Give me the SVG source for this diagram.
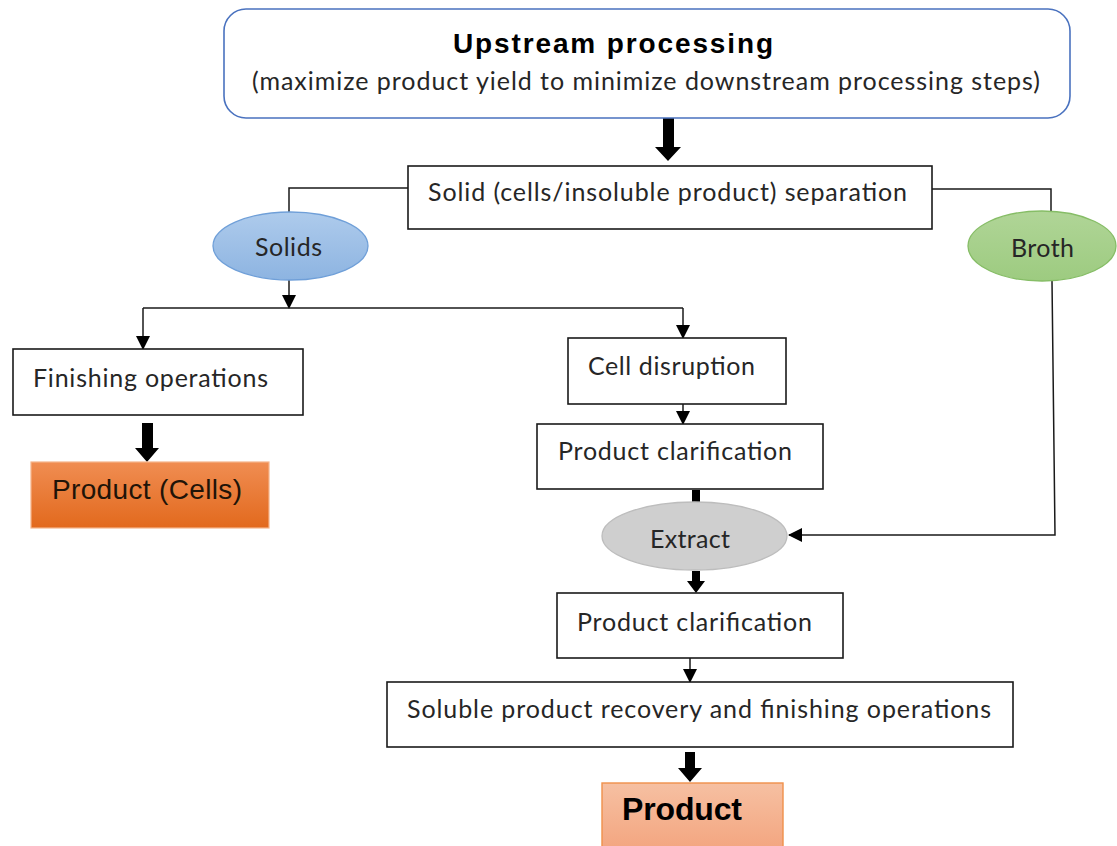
<svg xmlns="http://www.w3.org/2000/svg" width="1117" height="846" viewBox="0 0 1117 846">
  <defs>
    <style>
      .box { fill: #ffffff; stroke: #1a1a1a; stroke-width: 1.6; }
      .lbl { font-family: Lato, "Open Sans", "Liberation Sans", sans-serif; font-size: 25px; fill: #262626; }
      .line { fill: none; stroke: #1a1a1a; stroke-width: 1.5; }
      .thick { fill: #000000; }
    </style>
    <marker id="arr" viewBox="0 0 14 14" refX="13" refY="7" markerWidth="14" markerHeight="14" markerUnits="userSpaceOnUse" orient="auto">
      <path d="M0,0 L14,7 L0,14 Z" fill="#000000"/>
    </marker>
    <linearGradient id="gSolids" x1="0" y1="0" x2="0" y2="1">
      <stop offset="0" stop-color="#aecbec"/>
      <stop offset="1" stop-color="#8db4e1"/>
    </linearGradient>
    <linearGradient id="gBroth" x1="0" y1="0" x2="0" y2="1">
      <stop offset="0" stop-color="#b0d597"/>
      <stop offset="1" stop-color="#9dcb80"/>
    </linearGradient>
    <linearGradient id="gCells" x1="0" y1="0" x2="0" y2="1">
      <stop offset="0" stop-color="#f08d52"/>
      <stop offset="1" stop-color="#e2691d"/>
    </linearGradient>
    <linearGradient id="gProduct" x1="0" y1="0" x2="0" y2="1">
      <stop offset="0" stop-color="#f6c0a2"/>
      <stop offset="1" stop-color="#f3a47e"/>
    </linearGradient>
  </defs>

  <rect width="1117" height="846" fill="#ffffff"/>

  <!-- connectors -->
  <g id="connectors">
    <!-- upstream to separation -->
    <polygon class="thick" points="663,118 674,118 674,147 681,147 668,161 655,147 663,147"/>
    <!-- separation to solids / broth -->
    <polyline class="line" points="408,188 289,188 289,212"/>
    <polyline class="line" points="932,189 1051,189 1051,211"/>
    <!-- solids split -->
    <line class="line" x1="289" y1="280" x2="289" y2="308" marker-end="url(#arr)"/>
    <line class="line" x1="143" y1="308" x2="683" y2="308"/>
    <line class="line" x1="143" y1="308" x2="143" y2="349" marker-end="url(#arr)"/>
    <line class="line" x1="683" y1="308" x2="683" y2="338" marker-end="url(#arr)"/>
    <!-- finishing to cells product -->
    <polygon class="thick" points="142,423 153,423 153,448 159,448 147,462 135,448 142,448"/>
    <!-- cell disruption to clarification -->
    <line class="line" x1="683" y1="404" x2="683" y2="424" marker-end="url(#arr)"/>
    <!-- clarification to extract -->
    <rect class="thick" x="692" y="490" width="8" height="12"/>
    <!-- broth to extract -->
    <polyline class="line" points="1052,281 1055,535 789,535" marker-end="url(#arr)"/>
    <!-- extract to clarification -->
    <polygon class="thick" points="692,571 700,571 700,581 705,581 696,593 687,581 692,581"/>
    <!-- clarification to recovery -->
    <line class="line" x1="690" y1="658" x2="690" y2="682" marker-end="url(#arr)"/>
    <!-- recovery to product -->
    <polygon class="thick" points="685,752 695,752 695,768 702,768 690,782 678,768 685,768"/>
  </g>

  <g id="upstream">
    <rect x="224" y="9" width="846" height="109" rx="22" ry="22" fill="#ffffff" stroke="#4a72bf" stroke-width="1.6"/>
    <text x="613" y="53" text-anchor="middle" font-family="'Liberation Sans', Arial, sans-serif" font-size="28" font-weight="bold" fill="#000000" textLength="320">Upstream processing</text>
    <text class="lbl" x="252" y="90" textLength="788" font-size="26">(maximize product yield to minimize downstream processing steps)</text>
  </g>

  <g id="separation">
    <rect class="box" x="408" y="166" width="524" height="63"/>
    <text class="lbl" x="428" y="201" textLength="479">Solid (cells/insoluble product) separation</text>
  </g>

  <g id="solids">
    <ellipse cx="290.5" cy="246" rx="77.5" ry="34" fill="url(#gSolids)" stroke="#6f9fd8" stroke-width="1.3"/>
    <text class="lbl" x="255" y="256" textLength="67">Solids</text>
  </g>

  <g id="broth">
    <ellipse cx="1042" cy="246" rx="74" ry="35" fill="url(#gBroth)" stroke="#86bd66" stroke-width="1.3"/>
    <text class="lbl" x="1011" y="257" textLength="63">Broth</text>
  </g>

  <g id="finishing">
    <rect class="box" x="13" y="349" width="290" height="66"/>
    <text class="lbl" x="33" y="387" textLength="235">Finishing operations</text>
  </g>

  <g id="product-cells">
    <rect x="31" y="462" width="238" height="66" fill="url(#gCells)" stroke="#f5b48a" stroke-width="1.2"/>
    <text x="52" y="499" font-family="'Liberation Sans', Arial, sans-serif" font-size="28" fill="#1f1408" textLength="190">Product (Cells)</text>
  </g>

  <g id="cell-disruption">
    <rect class="box" x="568" y="338" width="218" height="66"/>
    <text class="lbl" x="588" y="375" textLength="167">Cell disruption</text>
  </g>

  <g id="clarification-1">
    <rect class="box" x="537" y="424" width="286" height="65"/>
    <text class="lbl" x="558" y="460" textLength="234">Product clarification</text>
  </g>

  <g id="extract">
    <ellipse cx="694.5" cy="536" rx="92.5" ry="34" fill="#cfcfcf" stroke="#bdbdbd" stroke-width="1.3"/>
    <text class="lbl" x="650" y="548" textLength="80">Extract</text>
  </g>

  <g id="clarification-2">
    <rect class="box" x="557" y="593" width="286" height="65"/>
    <text class="lbl" x="577" y="631" textLength="235">Product clarification</text>
  </g>

  <g id="recovery">
    <rect class="box" x="387" y="682" width="626" height="65"/>
    <text class="lbl" x="407" y="718" textLength="584">Soluble product recovery and finishing operations</text>
  </g>

  <g id="product">
    <rect x="602" y="783" width="181" height="70" fill="url(#gProduct)" stroke="#f0904a" stroke-width="1.4"/>
    <text x="622" y="820" font-family="'Liberation Sans', Arial, sans-serif" font-size="32" font-weight="bold" fill="#000000" textLength="120">Product</text>
  </g>
</svg>
